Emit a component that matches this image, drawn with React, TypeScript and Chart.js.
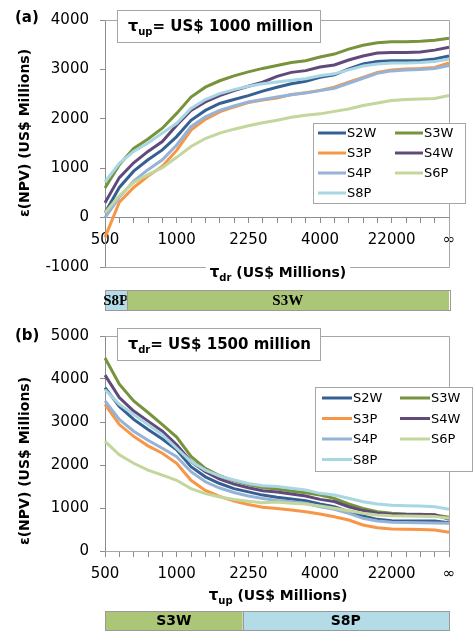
import { useEffect, useRef } from 'react';
import { Chart, registerables } from 'chart.js';

Chart.register(...registerables);

// ---------- data ----------
const X_TICK_LABELS = ['500', '1000', '2250', '4000', '22000', '∞'];
const X_TICK_POSITIONS = [0, 5, 10, 15, 20, 24];
const N_POINTS = 25;
const CATEGORIES = Array.from({ length: N_POINTS }, (_, i) => {
  const k = X_TICK_POSITIONS.indexOf(i);
  return k >= 0 ? X_TICK_LABELS[k] : '';
});

const SERIES_NAMES = ['S2W', 'S3W', 'S3P', 'S4W', 'S4P', 'S6P', 'S8P'];
const SERIES_COLORS = ['#376092', '#77933C', '#F79646', '#604A7B', '#95B3D7', '#C3D69B', '#A8D6E3'];

// Panel (a): tau_up = 1000, x = tau_dr
const A_S2W = [100, 610, 940, 1170, 1370, 1640, 1970, 2170, 2310, 2390, 2470, 2560, 2640, 2710, 2760, 2840, 2890, 3010, 3110, 3160, 3175, 3175, 3180, 3210, 3270];
const A_S3W = [600, 1070, 1400, 1590, 1810, 2110, 2440, 2640, 2770, 2870, 2950, 3020, 3080, 3140, 3175, 3250, 3310, 3410, 3490, 3540, 3560, 3560, 3570, 3590, 3630];
const A_S3P = [-400, 310, 610, 840, 1040, 1360, 1770, 1990, 2140, 2240, 2330, 2380, 2420, 2490, 2530, 2575, 2640, 2740, 2840, 2940, 2990, 3010, 3020, 3040, 3130];
const A_S4W = [300, 810, 1110, 1340, 1540, 1870, 2170, 2340, 2470, 2570, 2660, 2740, 2860, 2940, 2975, 3050, 3090, 3190, 3270, 3330, 3340, 3340, 3350, 3390, 3450];
const A_S4P = [0, 410, 740, 970, 1170, 1470, 1840, 2040, 2170, 2260, 2340, 2390, 2440, 2487, 2520, 2570, 2620, 2720, 2820, 2920, 2970, 2990, 3000, 3020, 3080];
const A_S6P = [100, 440, 710, 870, 1010, 1220, 1440, 1600, 1710, 1790, 1860, 1920, 1970, 2030, 2070, 2100, 2150, 2200, 2270, 2320, 2370, 2390, 2400, 2410, 2470];
const A_S8P = [720, 1100, 1340, 1510, 1710, 1910, 2210, 2390, 2510, 2590, 2660, 2710, 2745, 2780, 2810, 2870, 2910, 2990, 3070, 3110, 3130, 3130, 3140, 3160, 3210];

// Panel (b): tau_dr = 1500, x = tau_up
const B_S2W = [3800, 3360, 3060, 2825, 2605, 2355, 1960, 1725, 1570, 1450, 1375, 1300, 1250, 1209, 1171, 1093, 1031, 915, 814, 736, 705, 700, 700, 695, 659];
const B_S3W = [4490, 3880, 3490, 3220, 2940, 2650, 2200, 1920, 1750, 1630, 1545, 1475, 1440, 1395, 1357, 1302, 1225, 1093, 992, 915, 876, 860, 853, 837, 783];
const B_S3P = [3410, 2940, 2665, 2445, 2275, 2040, 1645, 1410, 1270, 1160, 1080, 1020, 990, 953, 915, 860, 798, 721, 605, 543, 512, 505, 500, 488, 434];
const B_S4W = [4090, 3570, 3255, 3020, 2785, 2470, 2080, 1845, 1670, 1555, 1470, 1400, 1370, 1326, 1280, 1200, 1150, 1030, 940, 876, 853, 850, 850, 845, 736];
const B_S4P = [3490, 3060, 2785, 2575, 2390, 2195, 1845, 1610, 1465, 1360, 1280, 1220, 1175, 1147, 1109, 1031, 969, 876, 760, 698, 667, 660, 655, 650, 643];
const B_S6P = [2550, 2235, 2040, 1880, 1765, 1645, 1450, 1335, 1255, 1200, 1155, 1125, 1140, 1109, 1093, 1047, 992, 938, 876, 837, 822, 815, 810, 805, 760];
const B_S8P = [3750, 3410, 3175, 2940, 2705, 2390, 2080, 1880, 1740, 1650, 1570, 1520, 1500, 1457, 1419, 1341, 1302, 1225, 1147, 1093, 1062, 1054, 1047, 1031, 969];

const A_Y_MIN = -1000;
const A_Y_MAX = 4000;
const B_Y_MIN = 0;
const B_Y_MAX = 5000;
const Y_STEP = 1000;

// best-scenario strips (category index boundaries)
const STRIP_A_LABELS = ['S8P', 'S3W'];
const STRIP_A_BOUNDS = [0, 1.5, 24];
const STRIP_B_LABELS = ['S3W', 'S8P'];
const STRIP_B_BOUNDS = [0, 9.6, 24];
const STRIP_COLORS: Record<string, string> = { S3W: '#ABC677', S8P: '#B3DCE7' };

// ---------- styling ----------
const SANS = '"DejaVu Sans", sans-serif';
const SERIF = '"Liberation Serif", serif';
const AXIS = '#8C8C8C';
const FRAME = '#A6A6A6';

type Part = { t: string; size: number; dy: number };

function drawRich(ctx: CanvasRenderingContext2D, parts: Part[], x: number, y: number, center: boolean) {
  let total = 0;
  const widths = parts.map((p) => {
    ctx.font = `bold ${p.size}px ${SANS}`;
    const w = ctx.measureText(p.t).width;
    total += w;
    return w;
  });
  let cx = center ? x - total / 2 : x;
  ctx.textBaseline = 'alphabetic';
  ctx.textAlign = 'left';
  parts.forEach((p, i) => {
    ctx.font = `bold ${p.size}px ${SANS}`;
    ctx.fillText(p.t, cx, y + p.dy);
    cx += widths[i];
  });
  return total;
}

type Panel = {
  key: string;
  letter: string;
  letterY: number;
  data: number[][];
  yMin: number;
  yMax: number;
  padTop: number;
  padBottom: number;
  boxTop: number;
  boxSub: string;
  boxRest: string;
  xTitleSub: string;
  xTitleY: number;
  xTitleBreakFrame: boolean;
  yTitleY: number;
  legend: { x: number; y: number; w: number; h: number; row0: number; rowStep: number; col1: number; col2: number; lineW: number };
  strip: { labels: string[]; bounds: number[]; top: number; bottom: number; font: string };
};

function overlayPlugin(p: Panel) {
  return {
    id: 'overlay_' + p.key,
    afterDatasetsDraw(chart: any) {
      const ctx: CanvasRenderingContext2D = chart.ctx;
      const a = chart.chartArea;
      const xs = chart.scales.x;
      ctx.save();

      // plot frame (top, right, bottom)
      ctx.strokeStyle = FRAME;
      ctx.lineWidth = 1;
      ctx.beginPath();
      ctx.moveTo(a.left, Math.round(a.top) + 0.5);
      ctx.lineTo(Math.round(a.right) + 0.5, Math.round(a.top) + 0.5);
      ctx.lineTo(Math.round(a.right) + 0.5, Math.round(a.bottom) + 0.5);
      ctx.lineTo(a.left, Math.round(a.bottom) + 0.5);
      ctx.stroke();

      // annotation box
      const bx = a.left + 12;
      const bw = 203;
      const bh = 32;
      ctx.fillStyle = '#fff';
      ctx.fillRect(bx, p.boxTop, bw, bh);
      ctx.strokeStyle = FRAME;
      ctx.strokeRect(bx + 0.5, p.boxTop + 0.5, bw, bh);
      ctx.fillStyle = '#000';
      drawRich(
        ctx,
        [
          { t: 'τ', size: 16, dy: 0 },
          { t: p.boxSub, size: 10, dy: 4 },
          { t: p.boxRest, size: 15, dy: 0 },
        ],
        bx + 11,
        p.boxTop + 21,
        false
      );

      // legend
      const L = p.legend;
      ctx.fillStyle = '#fff';
      ctx.fillRect(L.x, L.y, L.w, L.h);
      ctx.strokeStyle = FRAME;
      ctx.strokeRect(L.x + 0.5, L.y + 0.5, L.w, L.h);
      SERIES_NAMES.forEach((name, i) => {
        const row = Math.floor(i / 2);
        const col = i % 2;
        const lx = col === 0 ? L.col1 : L.col2;
        const ly = L.row0 + row * L.rowStep;
        ctx.strokeStyle = SERIES_COLORS[i];
        ctx.lineWidth = 3;
        ctx.beginPath();
        ctx.moveTo(lx, ly);
        ctx.lineTo(lx + L.lineW, ly);
        ctx.stroke();
        ctx.fillStyle = '#000';
        ctx.font = `13px ${SANS}`;
        ctx.textAlign = 'left';
        ctx.textBaseline = 'middle';
        ctx.fillText(name, lx + L.lineW + 1, ly + 1);
      });

      // x axis title
      ctx.fillStyle = '#000';
      ctx.font = `bold 14px ${SANS}`;
      const tParts: Part[] = [
        { t: 'τ', size: 15, dy: 0 },
        { t: p.xTitleSub, size: 10, dy: 4 },
        { t: ' (US$ Millions)', size: 14, dy: 0 },
      ];
      const cxT = (a.left + a.right) / 2 + 1;
      if (p.xTitleBreakFrame) {
        let w = 0;
        tParts.forEach((q) => {
          ctx.font = `bold ${q.size}px ${SANS}`;
          w += ctx.measureText(q.t).width;
        });
        ctx.fillStyle = '#fff';
        ctx.fillRect(cxT - w / 2 - 4, p.xTitleY - 14, w + 8, 22);
        ctx.fillStyle = '#000';
      }
      drawRich(ctx, tParts, cxT, p.xTitleY + 5, true);

      // y axis title
      ctx.save();
      ctx.translate(25, p.yTitleY);
      ctx.rotate(-Math.PI / 2);
      ctx.font = `bold 14px ${SANS}`;
      ctx.textAlign = 'center';
      ctx.textBaseline = 'middle';
      ctx.fillStyle = '#000';
      ctx.fillText('ε(NPV) (US$ Millions)', 0, 0);
      ctx.restore();

      // panel letter
      ctx.font = `bold 15px ${SANS}`;
      ctx.textAlign = 'left';
      ctx.textBaseline = 'middle';
      ctx.fillStyle = '#000';
      ctx.fillText(p.letter, 15, p.letterY);

      // best-scenario strip
      const S = p.strip;
      S.labels.forEach((lab, i) => {
        const x0 = xs.getPixelForValue(S.bounds[i]);
        const x1 = xs.getPixelForValue(S.bounds[i + 1]);
        ctx.fillStyle = STRIP_COLORS[lab];
        ctx.fillRect(x0, S.top, x1 - x0, S.bottom - S.top);
        ctx.strokeStyle = '#9A9A9A';
        ctx.lineWidth = 1;
        ctx.strokeRect(Math.round(x0) + 0.5, S.top + 0.5, Math.round(x1 - x0), S.bottom - S.top);
        ctx.fillStyle = '#000';
        ctx.font = S.font;
        ctx.textAlign = 'center';
        ctx.textBaseline = 'middle';
        ctx.fillText(lab, (x0 + x1) / 2, (S.top + S.bottom) / 2 + 1);
      });

      ctx.restore();
    },
  };
}

function makeConfig(p: Panel): any {
  return {
    type: 'line',
    data: {
      labels: CATEGORIES,
      datasets: SERIES_NAMES.map((name, i) => ({
        label: name,
        data: p.data[i],
        borderColor: SERIES_COLORS[i],
        backgroundColor: SERIES_COLORS[i],
        borderWidth: 3,
        pointRadius: 0,
        tension: 0,
        order: SERIES_NAMES.length - i,
      })),
    },
    options: {
      responsive: false,
      animation: false,
      events: [],
      layout: { padding: { left: 0, right: 26, top: p.padTop, bottom: p.padBottom } },
      plugins: { legend: { display: false }, tooltip: { enabled: false }, title: { display: false } },
      scales: {
        x: {
          type: 'category',
          position: { y: 0 },
          offset: false,
          ticks: {
            autoSkip: false,
            maxRotation: 0,
            minRotation: 0,
            padding: 9,
            color: '#000',
            font: { family: SANS, size: 15 },
          },
          grid: { display: true, drawOnChartArea: false, drawTicks: true, tickLength: 5, color: AXIS, offset: false },
          border: { display: true, color: AXIS, width: 1 },
        },
        y: {
          min: p.yMin,
          max: p.yMax,
          afterFit: (s: any) => {
            s.width = 105;
          },
          ticks: {
            stepSize: Y_STEP,
            padding: 11,
            color: '#000',
            font: { family: SANS, size: 15 },
            callback: (v: any) => String(v),
          },
          grid: { display: true, drawOnChartArea: false, drawTicks: true, tickLength: 5, color: AXIS },
          border: { display: true, color: AXIS, width: 1 },
        },
      },
    },
    plugins: [overlayPlugin(p)],
  };
}

const PANEL_A: Panel = {
  key: 'a',
  letter: '(a)',
  letterY: 18,
  data: [A_S2W, A_S3W, A_S3P, A_S4W, A_S4P, A_S6P, A_S8P],
  yMin: A_Y_MIN,
  yMax: A_Y_MAX,
  padTop: 16,
  padBottom: 48,
  boxTop: 10,
  boxSub: 'up',
  boxRest: '= US$ 1000 million',
  xTitleSub: 'dr',
  xTitleY: 272,
  xTitleBreakFrame: true,
  yTitleY: 133,
  legend: { x: 313, y: 123, w: 152, h: 80, row0: 133, rowStep: 20, col1: 318, col2: 395, lineW: 28 },
  strip: { labels: STRIP_A_LABELS, bounds: STRIP_A_BOUNDS, top: 290, bottom: 310, font: `bold 15px ${SERIF}` },
};

const PANEL_B: Panel = {
  key: 'b',
  letter: '(b)',
  letterY: 21,
  data: [B_S2W, B_S3W, B_S3P, B_S4W, B_S4P, B_S6P, B_S8P],
  yMin: B_Y_MIN,
  yMax: B_Y_MAX,
  padTop: 21,
  padBottom: 81,
  boxTop: 13,
  boxSub: 'dr',
  boxRest: '= US$ 1500 million',
  xTitleSub: 'up',
  xTitleY: 280,
  xTitleBreakFrame: false,
  yTitleY: 146,
  legend: { x: 315, y: 72, w: 157, h: 84, row0: 83, rowStep: 20.5, col1: 322, col2: 400, lineW: 30 },
  strip: { labels: STRIP_B_LABELS, bounds: STRIP_B_BOUNDS, top: 296, bottom: 315, font: `bold 14px ${SANS}` },
};

function PanelChart({ panel, height }: { panel: Panel; height: number }) {
  const ref = useRef<HTMLCanvasElement | null>(null);
  useEffect(() => {
    if (!ref.current) return;
    const chart = new Chart(ref.current, makeConfig(panel));
    return () => chart.destroy();
  }, [panel]);
  return <canvas ref={ref} width={475} height={height} style={{ display: 'block', width: 475, height }} />;
}

export default function App() {
  return (
    <div style={{ position: 'absolute', left: 0, top: 0, width: 475, height: 632, background: '#fff' }}>
      <PanelChart panel={PANEL_A} height={315} />
      <PanelChart panel={PANEL_B} height={317} />
    </div>
  );
}
